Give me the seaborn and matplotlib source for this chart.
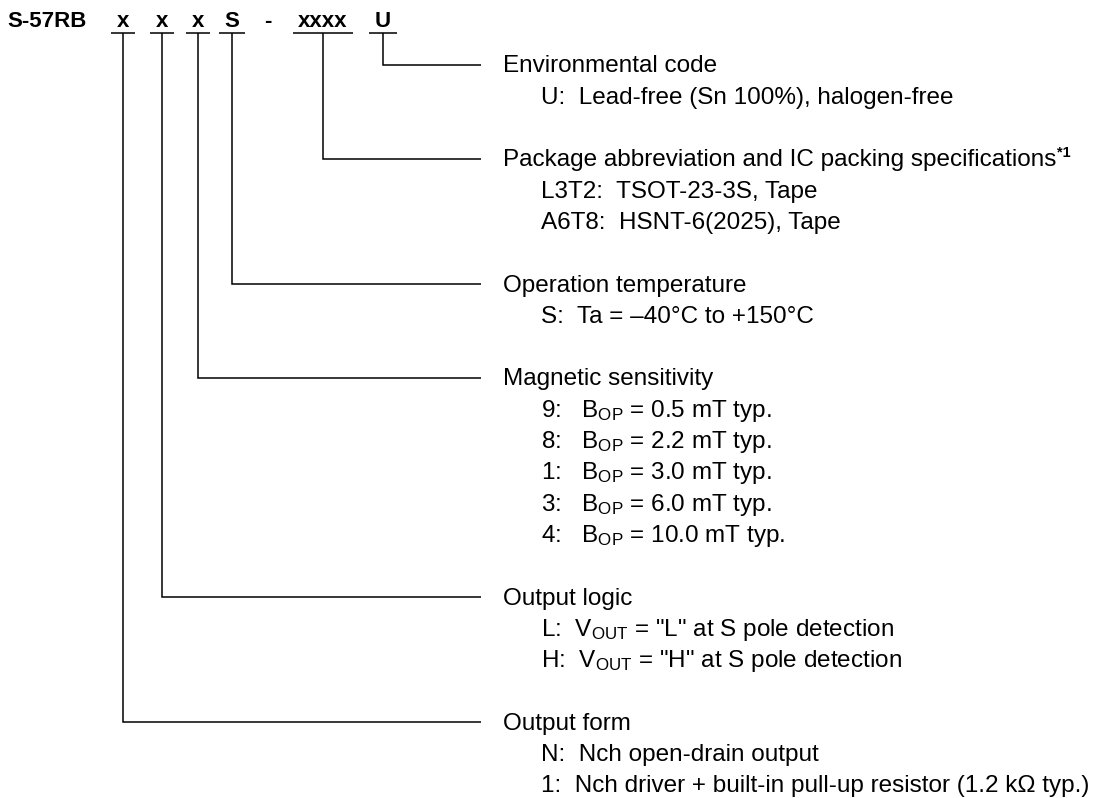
"""Product name structure diagram for S-57RB series."""
import matplotlib
matplotlib.use("Agg")
import matplotlib.pyplot as plt
import seaborn as sns

# ---- content -------------------------------------------------------------
PREFIX = "S-57RB"
CODE_TOKENS = ["x", "x", "x", "S", "-", "xxxx", "U"]

# which code token each description block belongs to (top to bottom)
GROUP_FIELD = [6, 5, 3, 2, 1, 0]
GROUP_TITLES = [
    "Environmental code",
    "Package abbreviation and IC packing specifications",
    "Operation temperature",
    "Magnetic sensitivity",
    "Output logic",
    "Output form",
]
GROUP_NOTES = ["", "*1", "", "", "", ""]

ENV_OPTIONS = ["U:  Lead-free (Sn 100%), halogen-free"]
PACKAGE_OPTIONS = ["L3T2:  TSOT-23-3S, Tape",
                   "A6T8:  HSNT-6(2025), Tape"]
TEMP_OPTIONS = ["S:  Ta = \u201340\u00b0C to +150\u00b0C"]
SENS_KEYS = ["9", "8", "1", "3", "4"]
SENS_BOP = ["0.5", "2.2", "3.0", "6.0", "10.0"]
LOGIC_KEYS = ["L", "H"]
LOGIC_LEVELS = ["L", "H"]
FORM_OPTIONS = ["N:  Nch open-drain output",
                "1:  Nch driver + built-in pull-up resistor (1.2 k\u03a9 typ.)"]

SENS_OPTIONS = [rf"{k}:   $\mathregular{{B_{{OP}}}}$ = {v} mT typ."
                for k, v in zip(SENS_KEYS, SENS_BOP)]
LOGIC_OPTIONS = [rf'{k}:  $\mathregular{{V_{{OUT}}}}$ = "{lv}" at S pole detection'
                 for k, lv in zip(LOGIC_KEYS, LOGIC_LEVELS)]
GROUP_OPTIONS = [ENV_OPTIONS, PACKAGE_OPTIONS, TEMP_OPTIONS,
                 SENS_OPTIONS, LOGIC_OPTIONS, FORM_OPTIONS]

# ---- layout (pixels) -----------------------------------------------------
W, H = 1093, 798
FS = 17.5
HEAD_FS = 16
TOKEN_X = [123, 162, 198, 232, 268, 323, 383]
HEAD_BASE = 27
UNDER_Y = 33
ROW0 = 65
PITCH = 31.3
LINE_END = 481
TITLE_X = 503
OPT_X = 541
LW = 1.1

sns.set_theme(style="white")
plt.rcParams.update({
    "font.family": ["Liberation Sans", "DejaVu Sans"],
    "mathtext.fontset": "custom",
    "mathtext.rm": "Liberation Sans",
    "mathtext.it": "Liberation Sans:italic",
    "mathtext.bf": "Liberation Sans:bold",
    "text.color": "black",
})

fig = plt.figure(figsize=(W / 100, H / 100), dpi=100)
ax = fig.add_axes([0, 0, 1, 1])
ax.set_xlim(0, W)
ax.set_ylim(H, 0)
ax.axis("off")
renderer = fig.canvas.get_renderer()

# header with underlined fields
ax.text(7, HEAD_BASE, PREFIX, fontsize=HEAD_FS, fontweight="bold",
        va="baseline")
for tok, cx in zip(CODE_TOKENS, TOKEN_X):
    t = ax.text(cx, HEAD_BASE, tok, fontsize=HEAD_FS, fontweight="bold",
                ha="center", va="baseline")
    if tok == "-":
        continue
    w = t.get_window_extent(renderer).width
    ax.plot([cx - w / 2 - 5.5, cx + w / 2 + 5.5], [UNDER_Y, UNDER_Y],
            color="black", lw=LW, solid_capstyle="butt")

# description blocks with leader lines
row = 0
for field, title, note, opts in zip(GROUP_FIELD, GROUP_TITLES,
                                    GROUP_NOTES, GROUP_OPTIONS):
    y = ROW0 + row * PITCH
    cx = TOKEN_X[field]
    ax.plot([cx, cx, LINE_END], [UNDER_Y, y, y], color="black", lw=LW,
            solid_joinstyle="miter", solid_capstyle="butt")
    t = ax.text(TITLE_X, y + 7.5, title, fontsize=FS, va="baseline")
    if note:
        bb = t.get_window_extent(renderer)
        ax.text(bb.x1 + 1, y - 2, note, fontsize=10.5, fontweight="bold",
                va="baseline")
    for opt in opts:
        row += 1
        ax.text(OPT_X, ROW0 + row * PITCH + 7.5, opt, fontsize=FS,
                va="baseline")
    row += 2

fig.savefig("out.png", dpi=100, facecolor="white")
